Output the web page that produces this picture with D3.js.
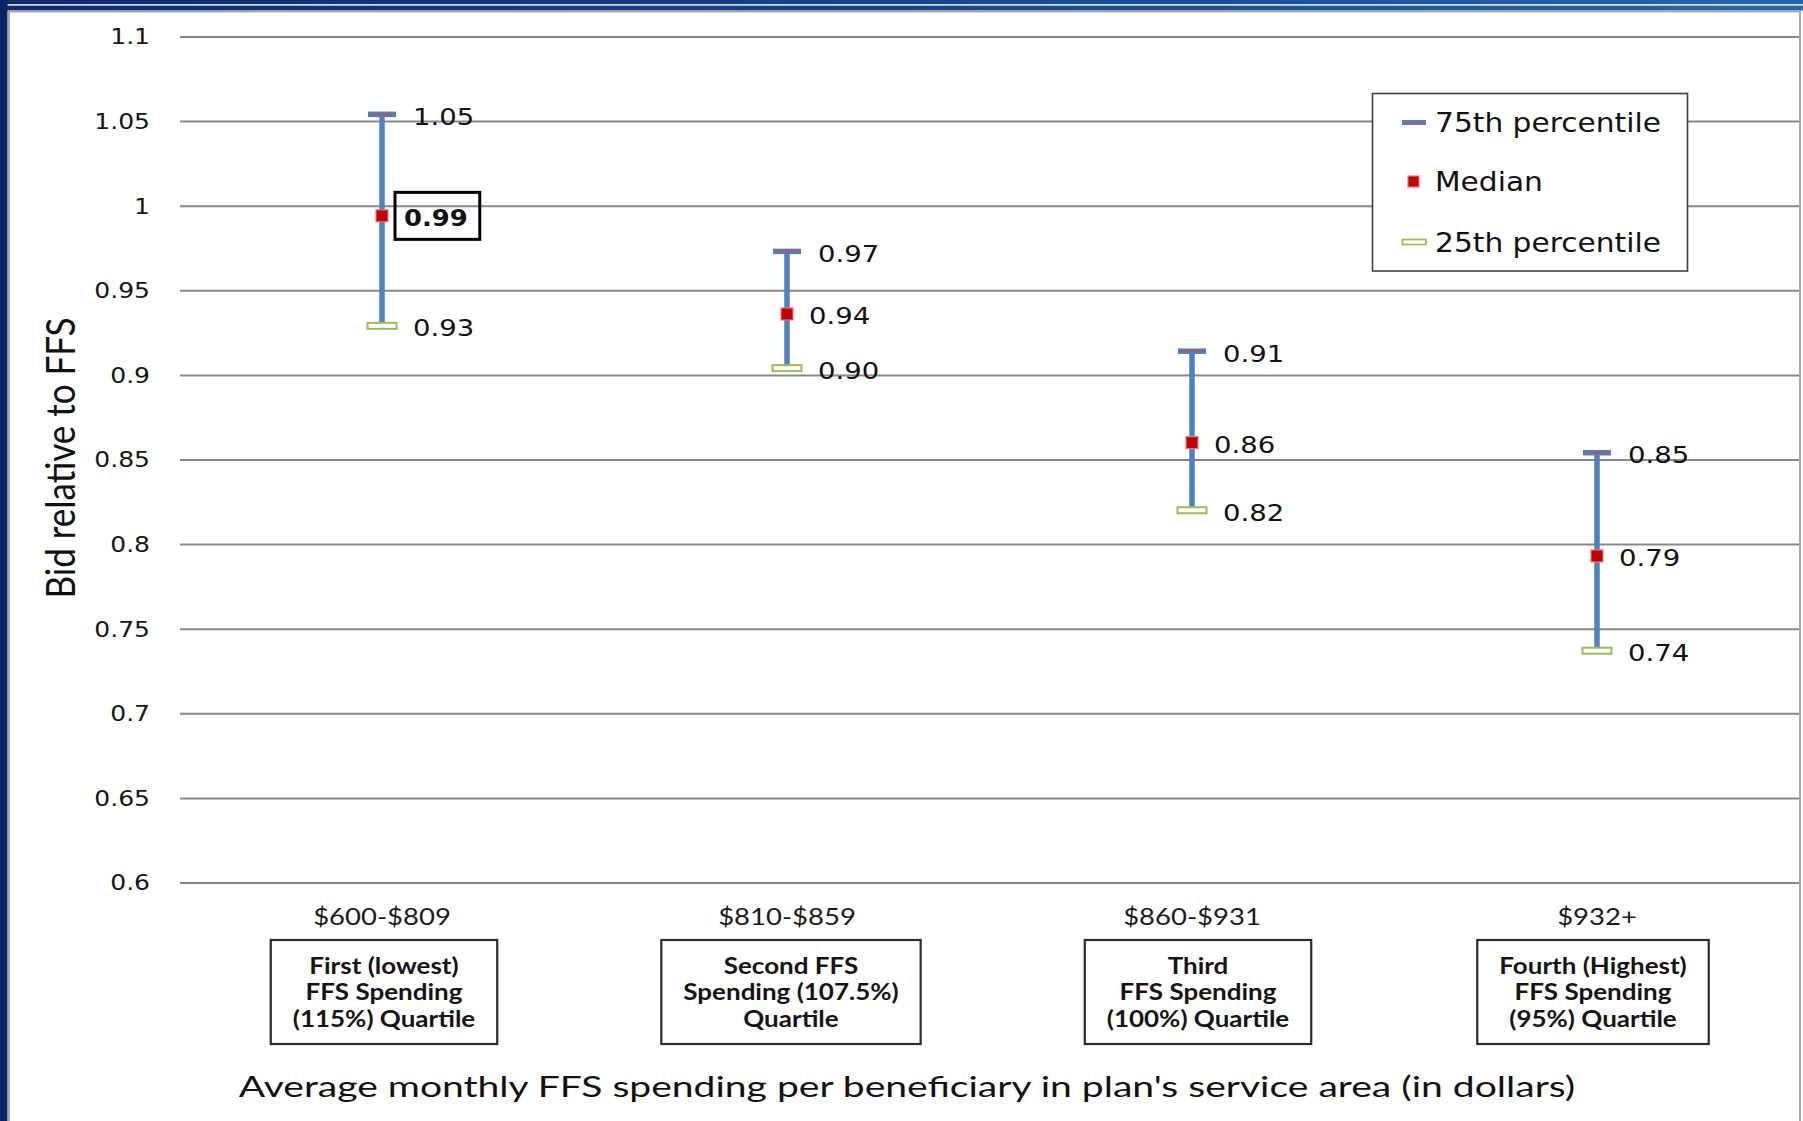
<!DOCTYPE html>
<html>
<head>
<meta charset="utf-8">
<script src="https://cdn.jsdelivr.net/npm/d3@7/dist/d3.min.js"></script>
<style>
  html, body { margin: 0; padding: 0; background: #ffffff; }
  svg { display: block; }
</style>
</head>
<body>
<svg id="chart" width="1803" height="1121"></svg>
<script>
// ---- data ----
const categories = ["$600-$809", "$810-$859", "$860-$931", "$932+"];
const quartileNames = [
  ["First (lowest)", "FFS Spending", "(115%) Quartile"],
  ["Second FFS", "Spending (107.5%)", "Quartile"],
  ["Third", "FFS Spending", "(100%) Quartile"],
  ["Fourth (Highest)", "FFS Spending", "(95%) Quartile"]
];
const p75    = [1.054, 0.973, 0.914, 0.854];
const median = [0.994, 0.936, 0.860, 0.793];
const p25    = [0.929, 0.904, 0.820, 0.737];
const yTicks = [0.6, 0.65, 0.7, 0.75, 0.8, 0.85, 0.9, 0.95, 1.0, 1.05, 1.1];
const yTickLabels = ["0.6", "0.65", "0.7", "0.75", "0.8", "0.85", "0.9", "0.95", "1", "1.05", "1.1"];
const seriesNames = ["75th percentile", "Median", "25th percentile"];
const highlightedCategory = "$600-$809";
const yTitle = "Bid relative to FFS";
const xTitle = "Average monthly FFS spending per beneficiary in plan's service area (in dollars)";

// ---- layout ----
const W = 1803, H = 1121;
const plot = { left: 180, right: 1799, top: 36.5, bottom: 882.5 };
const BLUE = "#4f81bd", RED = "#c0504d", DARKRED = "#c00000", GREEN = "#9bbb59";
const NUM_FONT = "'DejaVu Sans', Verdana, sans-serif";
const TXT_FONT = "Lato, 'Open Sans', sans-serif";
const fmt = d3.format(".2f");

const svg = d3.select("#chart");

const x = d3.scalePoint().domain(categories).range([plot.left + 202, plot.right - 202]);
const y = d3.scaleLinear().domain([0.6, 1.1]).range([plot.bottom, plot.top]);

// text whose glyphs are widened horizontally by sx; ty is the visual centre of the caps
function label(parent, tx, ty, str, o) {
  return parent.append("text")
    .attr("transform", `translate(${tx},${ty}) scale(${o.sx || 1},1)`)
    .attr("dy", "0.36em")
    .attr("text-anchor", o.anchor || "start")
    .style("font-family", o.family)
    .style("font-size", o.size + "px")
    .style("font-weight", o.weight || "normal")
    .attr("fill", o.fill || "#111")
    .text(str);
}

// ---- slide frame ----
const defs = svg.append("defs");
const grad = defs.append("linearGradient").attr("id", "band").attr("x1", 0).attr("x2", 1).attr("y1", 0).attr("y2", 0);
grad.append("stop").attr("offset", 0).attr("stop-color", "#0c2a6c");
grad.append("stop").attr("offset", 0.55).attr("stop-color", "#17478f");
grad.append("stop").attr("offset", 1).attr("stop-color", "#2467ae");

svg.append("rect").attr("x", 0).attr("y", 0).attr("width", W).attr("height", 10.5).attr("fill", "url(#band)");
svg.append("rect").attr("x", 0).attr("y", 4.2).attr("width", W).attr("height", 1.4).attr("fill", "#ffffff");
svg.append("rect").attr("x", 0).attr("y", 0).attr("width", 7.5).attr("height", H).attr("fill", "#0a2465");
svg.append("path")
  .attr("d", `M9,${H} V11.5 H1800 V${H}`)
  .attr("fill", "none").attr("stroke", "#a6a6a6").attr("stroke-width", 2);

// ---- gridlines and y tick labels ----
const yAxis = d3.axisLeft(y)
  .tickValues(yTicks)
  .tickFormat((d, i) => yTickLabels[i])
  .tickSize(-(plot.right - plot.left))
  .tickPadding(30);

const gy = svg.append("g").attr("transform", `translate(${plot.left},0)`).call(yAxis);
gy.select(".domain").remove();
gy.selectAll(".tick line").attr("stroke", "#878787").attr("stroke-width", 2);
gy.selectAll(".tick text")
  .attr("x", 0).attr("dy", "0.36em")
  .attr("transform", "translate(-30,0) scale(1.22,1)")
  .style("font-family", NUM_FONT).style("font-size", "20.5px").attr("fill", "#151515");

// ---- y axis title ----
svg.append("text")
  .attr("transform", `translate(75,458) rotate(-90) scale(1,1.16)`)
  .attr("text-anchor", "middle")
  .style("font-family", TXT_FONT).style("font-size", "35px")
  .attr("fill", "#111")
  .text(yTitle);

// ---- range bars ----
const rows = categories.map((c, i) => ({ c, hi: p75[i], mid: median[i], lo: p25[i] }));
const marks = svg.append("g");

marks.selectAll("line.range").data(rows).join("line")
  .attr("class", "range")
  .attr("x1", d => x(d.c)).attr("x2", d => x(d.c))
  .attr("y1", d => y(d.hi)).attr("y2", d => y(d.lo))
  .attr("stroke", BLUE).attr("stroke-width", 5.5);

// 75th percentile dash: blue bar with a red core
marks.selectAll("rect.hi").data(rows).join("rect")
  .attr("class", "hi")
  .attr("x", d => x(d.c) - 14).attr("y", d => y(d.hi) - 2.75)
  .attr("width", 28).attr("height", 5.5).attr("fill", BLUE);
marks.selectAll("line.hicore").data(rows).join("line")
  .attr("class", "hicore")
  .attr("x1", d => x(d.c) - 11).attr("x2", d => x(d.c) + 11)
  .attr("y1", d => y(d.hi)).attr("y2", d => y(d.hi))
  .attr("stroke", RED).attr("stroke-width", 1.6);

// 25th percentile dash: hollow green
marks.selectAll("rect.lo").data(rows).join("rect")
  .attr("class", "lo")
  .attr("x", d => x(d.c) - 14.5).attr("y", d => y(d.lo) - 3)
  .attr("width", 29).attr("height", 6)
  .attr("fill", "#ffffff").attr("stroke", GREEN).attr("stroke-width", 2);

// median square
marks.selectAll("rect.mid").data(rows).join("rect")
  .attr("class", "mid")
  .attr("x", d => x(d.c) - 6).attr("y", d => y(d.mid) - 6)
  .attr("width", 12).attr("height", 12)
  .attr("fill", DARKRED).attr("stroke", "#e07a78").attr("stroke-width", 1.2);

// ---- value labels ----
const numOpts = { family: NUM_FONT, size: 23.5, sx: 1.17 };
rows.forEach(d => {
  const cx = x(d.c);
  label(marks, cx + 31, y(d.hi) + 2, fmt(d.hi), numOpts);
  label(marks, cx + 31, y(d.lo) + 2, fmt(d.lo), numOpts);
  if (d.c === highlightedCategory) {
    const t = label(marks, cx + 22, y(d.mid) + 2, fmt(d.mid), { family: NUM_FONT, size: 23.5, sx: 1.1, weight: "bold" });
    const w = t.node().getComputedTextLength() * 1.1;
    marks.append("rect")
      .attr("x", cx + 13).attr("y", y(d.mid) - 23.5)
      .attr("width", w + 21).attr("height", 47)
      .attr("fill", "none").attr("stroke", "#000").attr("stroke-width", 3);
  } else {
    label(marks, cx + 22, y(d.mid) + 2, fmt(d.mid), numOpts);
  }
});

// ---- category labels and quartile boxes ----
const cats = svg.append("g");
const boxShift = [2, 4, 6, -4];
rows.forEach((d, i) => {
  const cx = x(d.c);
  const bx = cx + boxShift[i];
  label(cats, cx, 916.5, d.c, { family: TXT_FONT, size: 23.7, sx: 1.16, anchor: "middle", fill: "#1a1a1a" });
  const lineY = [966, 992, 1019];
  const texts = quartileNames[i].map((s, k) =>
    label(cats, bx, lineY[k], s, { family: TXT_FONT, size: 23, sx: 1.13, anchor: "middle", weight: "bold", fill: "#141414" }));
  const maxW = d3.max(texts, t => t.node().getComputedTextLength() * 1.13);
  cats.insert("rect", ":first-child")
    .attr("x", bx - maxW / 2 - 22).attr("y", 940)
    .attr("width", maxW + 44).attr("height", 104)
    .attr("fill", "#ffffff").attr("stroke", "#2b2b2b").attr("stroke-width", 2.2);
});

// ---- x axis title, widened to span 1337px ----
const xt = label(svg, 907, 1087, xTitle, { family: TXT_FONT, size: 28, anchor: "middle", fill: "#111" });
const xtSx = 1337 / xt.node().getComputedTextLength();
xt.attr("transform", `translate(907,1087) scale(${xtSx},1)`);

// ---- legend ----
const lg = svg.append("g");
lg.append("rect").attr("x", 1372.5).attr("y", 93.5).attr("width", 315).attr("height", 177.5)
  .attr("fill", "#ffffff").attr("stroke", "#3f3f3f").attr("stroke-width", 1.6);
const legendY = [122.5, 181.5, 242];
// 75th
lg.append("rect").attr("x", 1402).attr("y", legendY[0] - 2.5).attr("width", 24).attr("height", 5).attr("fill", BLUE);
lg.append("line").attr("x1", 1404).attr("x2", 1424).attr("y1", legendY[0]).attr("y2", legendY[0])
  .attr("stroke", RED).attr("stroke-width", 1.2);
// median
lg.append("rect").attr("x", 1408).attr("y", legendY[1] - 5.5).attr("width", 11).attr("height", 11)
  .attr("fill", DARKRED).attr("stroke", "#e07a78").attr("stroke-width", 1.2);
// 25th
lg.append("rect").attr("x", 1402.5).attr("y", legendY[2] - 2.5).attr("width", 23.5).attr("height", 5)
  .attr("fill", "#ffffff").attr("stroke", GREEN).attr("stroke-width", 1.8);
seriesNames.forEach((s, i) => {
  label(lg, 1435, legendY[i], s, { family: NUM_FONT, size: 26.5, sx: 1.12, fill: "#111" });
});
</script>
</body>
</html>
